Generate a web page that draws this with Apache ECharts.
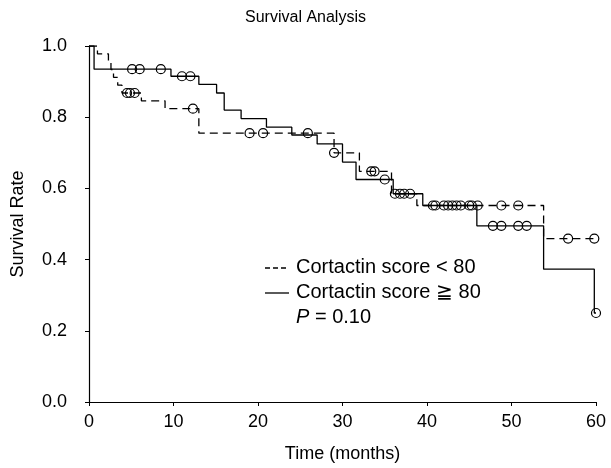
<!DOCTYPE html>
<html lang="en">
<head>
<meta charset="UTF-8">
<title>Survival Analysis</title>
<style>html,body{margin:0;padding:0;background:#fff}</style>
</head>
<body>
<div id="main" style="width:611px;height:468px"></div>
<script src="https://cdn.jsdelivr.net/npm/echarts@6/dist/echarts.min.js"></script>
<script>
// Kaplan-Meier steps: [time (months), survival] value holds from that time on
const lowSteps = [[0,1.0],[1.0,0.978],[2.3,0.956],[2.6,0.934],[2.9,0.912],[3.4,0.89],[3.9,0.868],
  [6.2,0.846],[9,0.824],[13,0.755],[29,0.70],[32,0.648],[35.8,0.585],[38.8,0.552],[53.8,0.459],[60,0.459]];
const highSteps = [[0,1.0],[0.6,0.935],[9.7,0.915],[13,0.892],[15.1,0.868],[16,0.82],[18,0.796],
  [21,0.772],[24,0.75],[27,0.725],[30,0.674],[31.6,0.625],[36,0.585],[39.5,0.552],[45.9,0.495],
  [53.8,0.373],[59.8,0.25],[60,0.25]];
// censored observations
const lowCensored = [[4.5,0.868],[4.85,0.868],[5.4,0.868],[12.3,0.824],[19,0.755],[20.6,0.755],
  [25.9,0.755],[29,0.70],[33.4,0.648],[33.8,0.648],[36.2,0.585],[36.8,0.585],[41,0.552],[42,0.552],
  [43,0.552],[44,0.552],[45,0.552],[46,0.552],[48.8,0.552],[50.8,0.552],[56.7,0.459],[59.8,0.459]];
const highCensored = [[5.1,0.935],[6.0,0.935],[8.5,0.935],[11,0.915],[12,0.915],[35,0.625],
  [37.3,0.585],[38,0.585],[40.7,0.552],[42.5,0.552],[43.5,0.552],[45.3,0.552],[47.8,0.495],
  [48.8,0.495],[50.8,0.495],[51.8,0.495],[60,0.25]];

const font = 'Liberation Sans, Arial, sans-serif';
const chart = echarts.init(document.getElementById('main'));

const censorStyle = {color: 'rgba(255,255,255,0)', borderColor: '#000', borderWidth: 1.2, opacity: 1};

chart.setOption({
  animation: false,
  title: {
    text: 'Survival Analysis',
    left: 'center',
    top: 5,
    textStyle: {fontFamily: font, fontSize: 16, fontWeight: 'normal', color: '#000'}
  },
  grid: {left: 89, right: 15, top: 46, bottom: 62},
  xAxis: {
    type: 'value', min: 0, max: 60, interval: 10,
    name: 'Time (months)', nameLocation: 'middle', nameGap: 43,
    nameTextStyle: {fontFamily: font, fontSize: 18, color: '#000'},
    axisLine: {lineStyle: {color: '#000', width: 1.2}},
    axisTick: {length: 4, lineStyle: {color: '#000'}},
    axisLabel: {fontFamily: font, fontSize: 18, color: '#000', margin: 11},
    splitLine: {show: false}
  },
  yAxis: {
    type: 'value', min: 0, max: 1, interval: 0.2,
    name: 'Survival Rate', nameLocation: 'middle', nameGap: 62,
    nameTextStyle: {fontFamily: font, fontSize: 18, color: '#000'},
    axisLine: {show: true, lineStyle: {color: '#000', width: 1.2}},
    axisTick: {show: true, length: 4, lineStyle: {color: '#000'}},
    axisLabel: {fontFamily: font, fontSize: 18, color: '#000', margin: 22,
      formatter: v => v.toFixed(1)},
    splitLine: {show: false}
  },
  series: [
    {
      name: 'Cortactin score < 80', type: 'line', step: 'end', symbol: 'none',
      data: lowSteps,
      lineStyle: {color: '#000', width: 1.3, type: [8, 5]}
    },
    {
      name: 'Cortactin score ≧ 80', type: 'line', step: 'end', symbol: 'none',
      data: highSteps,
      lineStyle: {color: '#000', width: 1.3}
    },
    {
      type: 'scatter', symbol: 'circle', symbolSize: 9, z: 5,
      data: lowCensored,
      itemStyle: censorStyle
    },
    {
      type: 'scatter', symbol: 'circle', symbolSize: 9, z: 5,
      data: highCensored,
      itemStyle: censorStyle
    }
  ],
  graphic: [
    {type: 'line', shape: {x1: 265, y1: 268, x2: 289, y2: 268},
      style: {stroke: '#000', lineWidth: 1.3, lineDash: [5, 3]}},
    {type: 'text', left: 296, top: 257,
      style: {text: 'Cortactin score < 80', font: '20px ' + font, fill: '#000'}},
    {type: 'line', shape: {x1: 265, y1: 293, x2: 289, y2: 293},
      style: {stroke: '#000', lineWidth: 1.3}},
    {type: 'text', left: 296, top: 282,
      style: {text: 'Cortactin score ≧ 80', font: '20px ' + font, fill: '#000'}},
    {type: 'text', left: 296, top: 307,
      style: {
        text: '{i|P} = 0.10',
        font: '20px ' + font, fill: '#000',
        rich: {i: {fontStyle: 'italic', fontFamily: font, fontSize: 20, fill: '#000'}}
      }}
  ]
});
</script>
</body>
</html>
